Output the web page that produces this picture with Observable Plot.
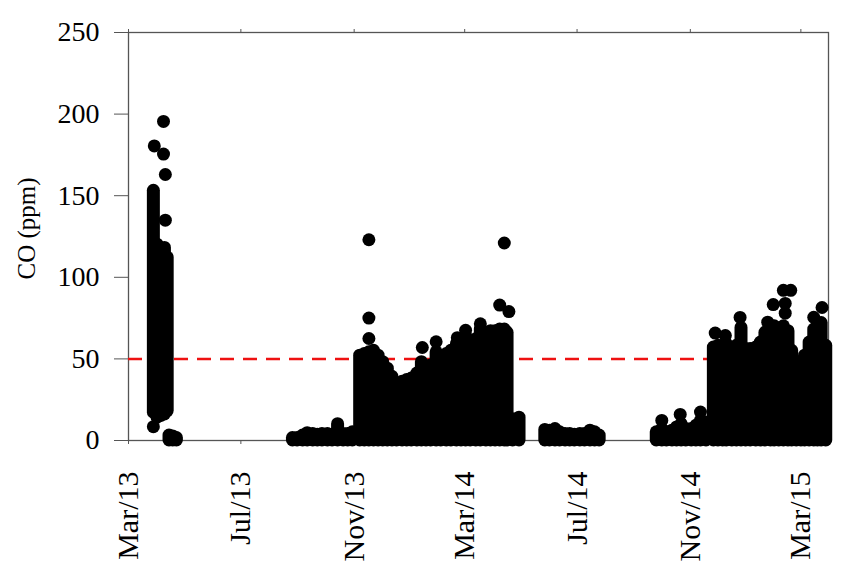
<!DOCTYPE html>
<html>
<head>
<meta charset="utf-8">
<script src="https://cdn.jsdelivr.net/npm/d3@7"></script>
<script src="https://cdn.jsdelivr.net/npm/@observablehq/plot@0.6"></script>
<style>
  html, body { margin: 0; padding: 0; background: #fff; }
  #chart svg { display: block; }
</style>
</head>
<body>
<div id="chart"></div>
<script>
// Daily range of CO readings (dense periods): date, lowest and highest reading (ppm)
const colDates = [
  "2013-03-28","2013-04-01","2013-04-05","2013-04-09","2013-04-12","2013-04-14","2013-04-18","2013-04-22",
  "2013-08-26","2013-08-31","2013-09-06","2013-09-11","2013-09-17","2013-09-22","2013-09-27","2013-10-03","2013-10-08","2013-10-14","2013-10-20","2013-10-25","2013-10-30",
  "2013-11-07","2013-11-12","2013-11-17","2013-11-22","2013-11-27","2013-12-02","2013-12-07","2013-12-12","2013-12-17","2013-12-23","2013-12-28",
  "2014-01-02","2014-01-08","2014-01-13","2014-01-18","2014-01-23","2014-01-29","2014-02-03","2014-02-09","2014-02-14","2014-02-20","2014-02-25",
  "2014-03-02","2014-03-07","2014-03-13","2014-03-18","2014-03-24","2014-03-29","2014-04-03","2014-04-08","2014-04-13","2014-04-16","2014-04-22","2014-04-29",
  "2014-05-27","2014-06-01","2014-06-07","2014-06-12","2014-06-18","2014-06-23","2014-06-28","2014-07-04","2014-07-09","2014-07-15","2014-07-20","2014-07-25",
  "2014-09-25","2014-10-01","2014-10-06","2014-10-12","2014-10-17","2014-10-22","2014-10-27","2014-11-02","2014-11-07","2014-11-12","2014-11-18",
  "2014-11-26","2014-12-01","2014-12-06","2014-12-10","2014-12-16","2014-12-21","2014-12-26","2014-12-31",
  "2015-01-05","2015-01-11","2015-01-16","2015-01-21","2015-01-27","2015-01-31","2015-02-05","2015-02-10","2015-02-15","2015-02-19","2015-02-24",
  "2015-03-01","2015-03-05","2015-03-10","2015-03-15","2015-03-19","2015-03-23","2015-03-28"
];
const colLow = [
  17,14,15,16,18,0,0,0,
  0,0,0,0,0,0,0,0,0,0,0,0,0,
  0,0,0,0,0,0,0,0,0,0,0,
  0,0,0,0,0,0,0,0,0,0,0,
  0,0,0,0,0,0,0,0,0,0,0,0,
  0,0,0,0,0,0,0,0,0,0,0,0,
  0,0,0,0,0,0,0,0,0,0,0,
  0,0,0,0,0,0,0,0,
  0,0,0,0,0,0,0,0,0,0,0,
  0,0,0,0,0,0,0
];
const colHigh = [
  153,120,113,118,112,3,2.5,1.5,
  1.5,1.5,3,4.5,4,3.5,4,4,3.5,10,4,4,5,
  52,53,54,55,52,48,44,39,35,36,37,
  38,41,48,43,46,54,50,53,55,59,62,
  64,59,62,68,66,67,67,68,68,66,13,14,
  6.5,6,7,5,4,4,3.5,4,4,6,5,3,
  5,7,5,6,8,10,7,7,9,12,11,
  57,58,58,59,51,58,69,56,
  56,57,60,66,66,70,63,70,67,55,48,
  44,52,60,68,70,72,58
];

// Individual readings standing apart from the dense periods
const dotDates = [
  "2013-04-08","2013-03-29","2013-04-08","2013-04-10","2013-04-10","2013-03-28",
  "2013-11-17","2013-11-17","2013-11-17","2014-01-14","2014-01-29","2014-02-21","2014-03-02","2014-03-18","2014-04-08","2014-04-18","2014-04-13",
  "2014-10-01","2014-10-21","2014-11-12",
  "2014-11-28","2014-12-09","2014-12-25","2015-01-24","2015-01-30","2015-02-10","2015-02-12","2015-02-12","2015-02-18","2015-03-15","2015-03-24"
];
const dotValues = [
  195.5,180.5,175.5,163,135,8.5,
  123,75,62.5,57,60.5,63,67.5,71.5,83,79,121,
  12.3,16,17.4,
  65.8,64.3,75.4,72.5,83.3,92,84,78,92,75.5,81.5
];

const tickDates = ["2013-03-01","2013-07-01","2013-11-01","2014-03-01","2014-07-01","2014-11-01","2015-03-01"];
const tickLabels = ["Mar/13","Jul/13","Nov/13","Mar/14","Jul/14","Nov/14","Mar/15"];
const yTicks = [0, 50, 100, 150, 200, 250];
const limitValue = 50;
const yTitle = "CO (ppm)";

const cols = colDates.map((d, i) => ({date: new Date(d), low: colLow[i], high: colHigh[i]}));
const dots = dotDates.map((d, i) => ({date: new Date(d), value: dotValues[i]}));
const ticks = tickDates.map(d => new Date(d));
const labelByTime = new Map(ticks.map((d, i) => [+d, tickLabels[i]]));

const serif = "'Liberation Serif', 'Times New Roman', Times, serif";
const axisGray = "#555";

const chart = Plot.plot({
  width: 844,
  height: 571,
  marginLeft: 128,
  marginRight: 16,
  marginTop: 32,
  marginBottom: 131,
  style: {fontFamily: serif, background: "#fff", color: "#000", overflow: "visible"},
  x: {type: "utc", domain: [new Date("2013-03-01"), new Date("2015-03-31")]},
  y: {domain: [0, 250]},
  marks: [
    Plot.frame({stroke: axisGray, strokeWidth: 1.3}),
    Plot.axisY({ticks: yTicks, tickSize: 14, tickPadding: 15, fontSize: 28, label: null, stroke: axisGray}),
    Plot.axisX({ticks, tickSize: 4, tickPadding: 27, tickRotate: -90, fontSize: 30,
                tickFormat: d => labelByTime.get(+d), label: null, stroke: axisGray}),
    Plot.axisX({anchor: "top", ticks, tickSize: 4, tickFormat: () => "", label: null, stroke: axisGray}),
    Plot.text([yTitle], {text: d => d, frameAnchor: "left", textAnchor: "middle", rotate: -90, dx: -102, dy: -8, fontSize: 25, fill: "#000"}),
    Plot.ruleY([limitValue], {stroke: "#ee1111", strokeWidth: 2.5, strokeDasharray: "14,9"}),
    Plot.ruleX(cols, {x: "date", y1: "low", y2: "high", stroke: "#000", strokeWidth: 13, strokeLinecap: "round"}),
    Plot.dot(dots, {x: "date", y: "value", r: 6.5, fill: "#000"})
  ]
});
document.getElementById("chart").appendChild(chart);
</script>
</body>
</html>
